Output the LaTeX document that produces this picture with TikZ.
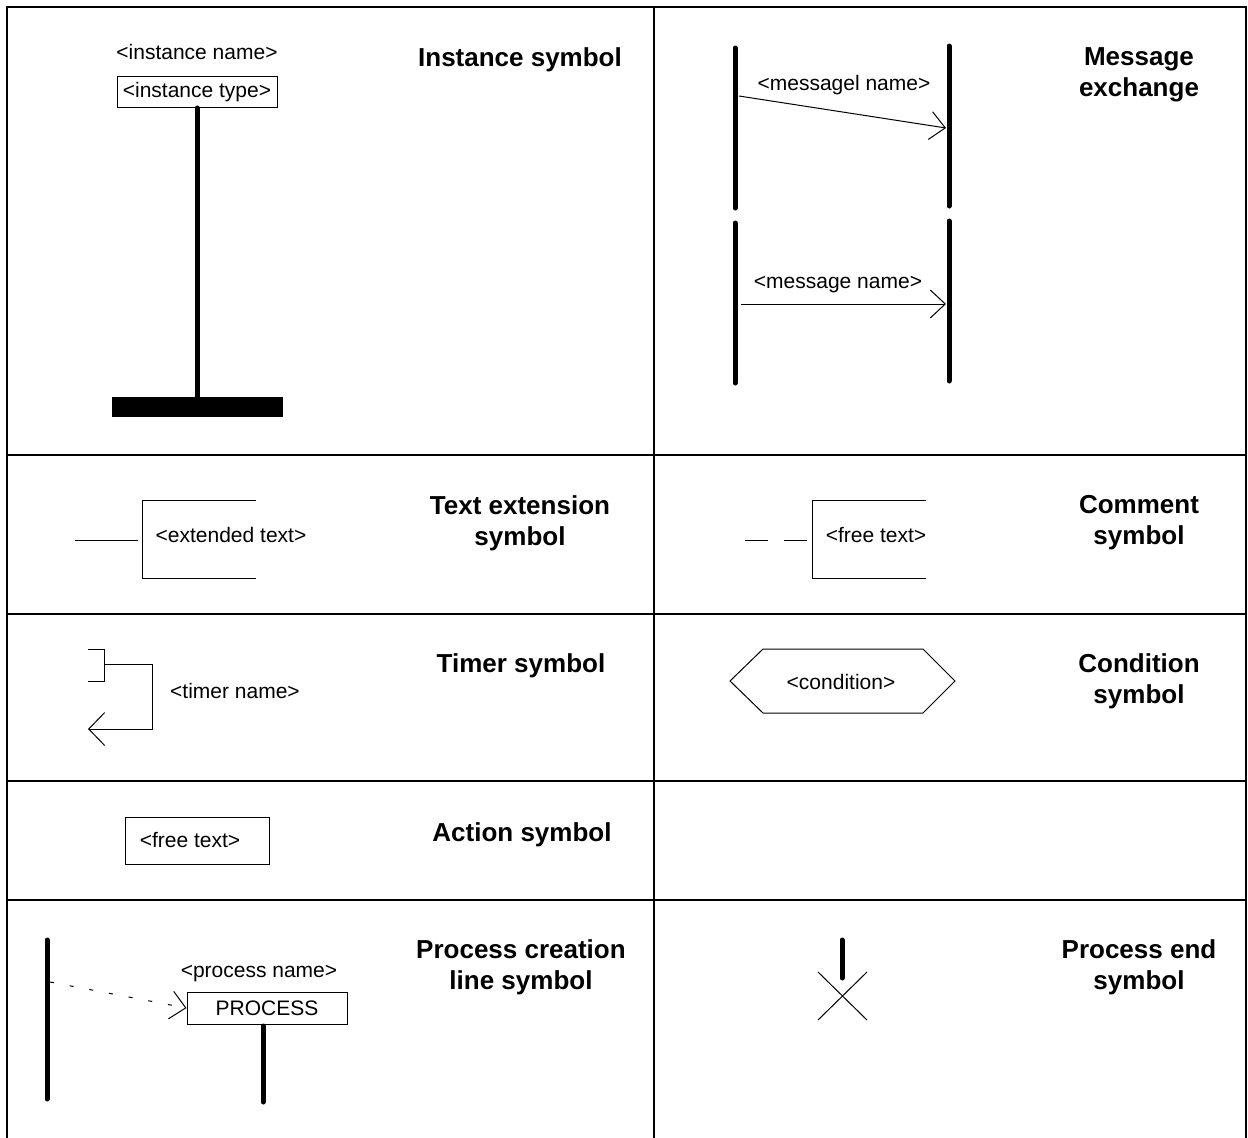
\documentclass[tikz,border=0pt]{standalone}
\usepackage{fontspec}
\setmainfont{Liberation Sans}
\usetikzlibrary{arrows.meta}

\begin{document}
\begin{tikzpicture}[x=1pt,y=-1pt,
    gridLine/.style={line width=2.5pt},
    lifeLine/.style={line width=5pt,line cap=round},
    thinLine/.style={line width=1pt},
    msgArrow/.style={thinLine,-{Straight Barb[length=15pt,width=28pt]}},
    symName/.style={font=\fontsize{26}{31}\selectfont\bfseries,align=center,inner sep=0pt},
    symText/.style={font=\fontsize{21}{25}\selectfont,inner sep=0pt},
    symBox/.style={draw,thinLine,symText,inner sep=0pt}]

    \def\tableLeft{7}
    \def\tableRight{1246}
    \def\tableMid{654}

    \useasboundingbox (0,0) rectangle (1248,1138);

    % Draw table
    \draw[gridLine] (\tableLeft,1138) -- (\tableLeft,7) -- (\tableRight,7) -- (\tableRight,1138);
    \draw[gridLine] (\tableMid,7) -- (\tableMid,1138);
    \foreach \y in {455,614,781,900}
        \draw[gridLine] (\tableLeft,\y) -- (\tableRight,\y);

    % Instance symbol: head box, lifeline and stop bar
    \node[symText] (instName) at (197,52) {<instance name>};
    \node[symBox,minimum width=160pt,minimum height=31pt] (instType) at (197,92) {<instance type>};
    \node[fill=black,minimum width=171pt,minimum height=20pt,inner sep=0pt] (instStop) at (197.5,407) {};
    \draw[lifeLine] (instType.south) -- (instType.south |- instStop.north);
    \node[symName] (instLabel) at (520,60) {Instance symbol};

    % Message exchange: two pairs of lifelines
    \coordinate (sendA1) at (735,48);  \coordinate (sendA2) at (735,208);
    \coordinate (recvA1) at (949,46);  \coordinate (recvA2) at (949,206);
    \coordinate (sendB1) at (735,223); \coordinate (sendB2) at (735,383);
    \coordinate (recvB1) at (949,221); \coordinate (recvB2) at (949,381);
    \draw[lifeLine] (sendA1) -- (sendA2);
    \draw[lifeLine] (recvA1) -- (recvA2);
    \draw[lifeLine] (sendB1) -- (sendB2);
    \draw[lifeLine] (recvB1) -- (recvB2);

    \coordinate (msgOneFrom) at (739,96);
    \coordinate (msgOneTo) at (946,128);
    \draw[msgArrow] (msgOneFrom) -- (msgOneTo);
    \node[symText] (msgOneName) at (844,85) {<messagel name>};

    \coordinate (msgTwoFrom) at (741,304);
    \coordinate (msgTwoTo) at (946,304);
    \draw[msgArrow] (msgTwoFrom) -- (msgTwoTo);
    \node[symText] (msgTwoName) at (838,285) {<message name>};

    \node[symName] (msgLabel) at (1139,75) {Message\\exchange};

    % Text extension symbol
    \coordinate (extFrom) at (75,540);
    \coordinate (extTo) at (138,540);
    \draw[thinLine] (extFrom) -- (extTo);
    \draw[thinLine] (256,500) -- (142,500) -- (142,578) -- (256,578);
    \node[symText] (extText) at (231,535) {<extended text>};
    \node[symName] (extLabel) at (520,523) {Text extension\\symbol};

    % Comment symbol
    \coordinate (commFrom) at (745,540);
    \coordinate (commTo) at (810,540);
    \draw[thinLine,dash pattern=on 23pt off 16pt] (commFrom) -- (commTo);
    \draw[thinLine] (926,500) -- (812,500) -- (812,578) -- (926,578);
    \node[symText] (commText) at (876,535) {<free text>};
    \node[symName] (commLabel) at (1139,523) {Comment\\symbol};

    % Timer symbol
    \coordinate (timerSet) at (104,664);
    \coordinate (timerOut) at (88,729);
    \draw[thinLine] (88,649) -- (104,649) -- (104,681) -- (88,681);
    \draw[thinLine,-{Straight Barb[length=16pt,width=33pt]}] (timerSet) -- (152,664) -- (152,729) -- (timerOut);
    \node[symText] (timerText) at (235,691) {<timer name>};
    \node[symName] (timerLabel) at (521,666) {Timer symbol};

    % Condition symbol
    \node[symText] (condText) at (841,682) {<condition>};
    \draw[thinLine] (730,681) -- (763,649) -- (923,649) -- (955,681) -- (923,713) -- (763,713) -- cycle;
    \node[symName] (condLabel) at (1139,681) {Condition\\symbol};

    % Action symbol
    \node[draw,thinLine,minimum width=144pt,minimum height=47pt,inner sep=0pt] (actBox) at (197,840.5) {};
    \node[symText] (actText) at (190,840) {<free text>};
    \node[symName] (actLabel) at (522,835) {Action symbol};

    % Process creation line symbol
    \coordinate (parentTop) at (47,940);
    \coordinate (parentBot) at (47,1099);
    \coordinate (parentMid) at (50,982);
    \draw[lifeLine] (parentTop) -- (parentBot);
    \node[symBox,minimum width=160pt,minimum height=32pt] (procBox) at (267,1008) {PROCESS};
    \node[symText] (procName) at (259,974) {<process name>};
    \coordinate (childTop) at (263,1026);
    \coordinate (childBot) at (263,1102);
    \draw[lifeLine] (childTop) -- (childBot);
    \draw[msgArrow,dash pattern=on 4pt off 16pt] (parentMid) -- (procBox.west);
    \node[symName] (procLabel) at (521,967) {Process creation\\line symbol};

    % Process end symbol
    \coordinate (endTop) at (842,940);
    \coordinate (endBot) at (842,978);
    \draw[lifeLine] (endTop) -- (endBot);
    \draw[thinLine] (818,972) -- (867,1020) (818,1020) -- (867,972);
    \node[symName] (endLabel) at (1139,967) {Process end\\symbol};

\end{tikzpicture}
\end{document}
